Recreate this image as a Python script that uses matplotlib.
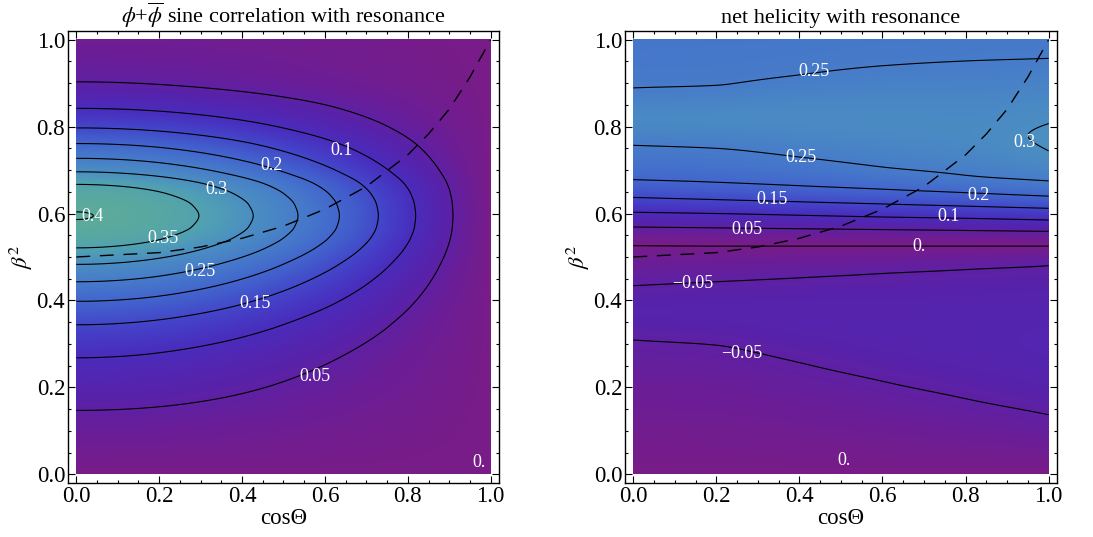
import numpy as np
import matplotlib
matplotlib.use("Agg")
import matplotlib.pyplot as plt
from matplotlib.colors import LinearSegmentedColormap
from matplotlib.ticker import MultipleLocator

plt.rcParams["font.family"] = ["Liberation Serif", "DejaVu Serif"]
plt.rcParams["mathtext.fontset"] = "stix"

# ── colour scale (|value| -> colour) ─────────────────────────────────────────
CMAP_VALUES = [0.00, 0.03, 0.06, 0.10, 0.14, 0.18, 0.22, 0.26, 0.30, 0.34, 0.38, 0.42]
CMAP_COLORS = ["#781c88", "#6a1e98", "#5822aa", "#4a2cbc", "#4442c8", "#425ccc",
               "#4470cc", "#4880c8", "#4b8ec2", "#50a0b4", "#58a8a2", "#60ad95"]

# ── left panel: phi + phibar sine correlation ────────────────────────────────
# profile along cosTheta = 0 (beta^2 -> value)
LEFT_COL_B = [0.0, 0.147, 0.268, 0.344, 0.398, 0.443, 0.483, 0.521, 0.545, 0.570,
              0.595, 0.620, 0.645, 0.667, 0.696, 0.727, 0.761, 0.797, 0.842, 0.903, 1.0]
LEFT_COL_V = [0.0, 0.05, 0.10, 0.15, 0.20, 0.25, 0.30, 0.35, 0.377, 0.395,
              0.401, 0.395, 0.377, 0.35, 0.30, 0.25, 0.20, 0.15, 0.10, 0.05, 0.02]
# profile along the ridge beta^2 ~ 0.6 (cosTheta -> value)
LEFT_ROW_C = [0.0, 0.296, 0.427, 0.535, 0.635, 0.729, 0.819, 0.909, 1.0]
LEFT_ROW_V = [0.401, 0.35, 0.30, 0.25, 0.20, 0.15, 0.10, 0.05, 0.0]
LEFT_LEVELS = [0.05, 0.10, 0.15, 0.20, 0.25, 0.30, 0.35, 0.40]
LEFT_LABELS = ["0.4", "0.35", "0.3", "0.2", "0.1", "0.25", "0.15", "0.05", "0."]
LEFT_LABEL_C = [0.040, 0.210, 0.339, 0.472, 0.641, 0.298, 0.431, 0.577, 0.973]
LEFT_LABEL_B = [0.592, 0.542, 0.656, 0.710, 0.744, 0.466, 0.392, 0.226, 0.027]

# ── right panel: net helicity, columns of contour crossings ──────────────────
RIGHT_COLS = [0.0, 0.2, 0.4, 0.6, 0.8, 1.0]
RIGHT_B = [
    [0.0, 0.309, 0.37, 0.434, 0.526, 0.569, 0.603, 0.637, 0.678, 0.757, 0.82, 0.889, 1.0],
    [0.0, 0.297, 0.37, 0.443, 0.525, 0.567, 0.600, 0.632, 0.672, 0.750, 0.82, 0.895, 1.0],
    [0.0, 0.257, 0.36, 0.452, 0.525, 0.565, 0.596, 0.627, 0.664, 0.730, 0.82, 0.919, 1.0],
    [0.0, 0.214, 0.34, 0.462, 0.525, 0.563, 0.592, 0.622, 0.656, 0.707, 0.81, 0.940, 1.0],
    [0.0, 0.174, 0.32, 0.471, 0.525, 0.561, 0.589, 0.617, 0.648, 0.688, 0.79, 0.951, 1.0],
    [0.0, 0.137, 0.30, 0.480, 0.525, 0.559, 0.585, 0.612, 0.640, 0.675, 0.744, 0.777, 0.807, 0.957, 1.0],
]
RIGHT_V = [
    [0.0, -0.05, -0.065, -0.05, 0.0, 0.05, 0.10, 0.15, 0.20, 0.25, 0.286, 0.25, 0.235],
    [0.0, -0.05, -0.066, -0.05, 0.0, 0.05, 0.10, 0.15, 0.20, 0.25, 0.287, 0.25, 0.236],
    [0.0, -0.05, -0.068, -0.05, 0.0, 0.05, 0.10, 0.15, 0.20, 0.25, 0.288, 0.25, 0.238],
    [0.0, -0.05, -0.070, -0.05, 0.0, 0.05, 0.10, 0.15, 0.20, 0.25, 0.289, 0.25, 0.241],
    [0.0, -0.05, -0.072, -0.05, 0.0, 0.05, 0.10, 0.15, 0.20, 0.25, 0.290, 0.25, 0.243],
    [0.0, -0.05, -0.075, -0.05, 0.0, 0.05, 0.10, 0.15, 0.20, 0.25, 0.30, 0.304, 0.30, 0.25, 0.245],
]
RIGHT_LEVELS = [-0.05, 0.0, 0.05, 0.10, 0.15, 0.20, 0.25, 0.30]
RIGHT_LABELS = ["0.25", "0.25", "0.15", "0.05", "0.2", "0.1", "0.", "0.3",
                "\u22120.05", "\u22120.05", "0."]
RIGHT_LABEL_C = [0.435, 0.405, 0.334, 0.273, 0.832, 0.759, 0.687, 0.941, 0.142, 0.262, 0.507]
RIGHT_LABEL_B = [0.926, 0.728, 0.633, 0.564, 0.642, 0.592, 0.525, 0.764, 0.439, 0.277, 0.032]

# ── resonance curve (dashed), same on both panels ────────────────────────────
RES_C = [0.0, 0.2, 0.3, 0.4, 0.5, 0.6, 0.7, 0.8, 0.85, 0.9, 0.95, 1.0]
RES_B = [0.500, 0.510, 0.523, 0.543, 0.571, 0.610, 0.662, 0.735, 0.783, 0.840, 0.914, 1.0]

N = 401
grid = np.linspace(0, 1, N)


def pchip(x, y, xn):
    # shape-preserving cubic through the read points (flat at extrema)
    x = np.asarray(x, float)
    y = np.asarray(y, float)
    h = np.diff(x)
    d = np.diff(y) / h
    m = np.zeros_like(y)
    for k in range(1, len(x) - 1):
        if d[k - 1] * d[k] > 0:
            w1 = 2 * h[k] + h[k - 1]
            w2 = h[k] + 2 * h[k - 1]
            m[k] = (w1 + w2) / (w1 / d[k - 1] + w2 / d[k])
    m[0], m[-1] = d[0], d[-1]
    i = np.clip(np.searchsorted(x, xn) - 1, 0, len(x) - 2)
    t = (xn - x[i]) / h[i]
    return ((2 * t**3 - 3 * t**2 + 1) * y[i] + (t**3 - 2 * t**2 + t) * h[i] * m[i]
            + (-2 * t**3 + 3 * t**2) * y[i + 1] + (t**3 - t**2) * h[i] * m[i + 1])


def left_field():
    p = pchip(LEFT_COL_B, LEFT_COL_V, grid)
    q = pchip(np.array(LEFT_ROW_C) ** 2, np.array(LEFT_ROW_V) / LEFT_ROW_V[0], grid ** 2)
    return p[:, None] * q[None, :]


def right_field():
    cols = np.array([pchip(b, v, grid) for b, v in zip(RIGHT_B, RIGHT_V)])
    z = np.empty((N, N))
    for i in range(N):
        z[i] = pchip(RIGHT_COLS, cols[:, i], grid)
    return z


def draw_panel(ax, z, levels, labels, lc, lb, title):
    cmap = LinearSegmentedColormap.from_list(
        "mma", list(zip(np.array(CMAP_VALUES) / CMAP_VALUES[-1], CMAP_COLORS)))
    ax.imshow(np.abs(z), extent=[0, 1, 0, 1], origin="lower", cmap=cmap,
              vmin=0, vmax=CMAP_VALUES[-1], aspect="auto", interpolation="bilinear")
    ax.contour(grid, grid, z, levels=levels, colors="k", linewidths=0.8,
               linestyles="solid")
    ax.plot(RES_C, RES_B, color="k", lw=1.0, dashes=(10, 7))
    for t, x, y in zip(labels, lc, lb):
        ax.text(x, y, t, color="white", fontsize=13, ha="center", va="center")

    ax.set_xlim(-0.02, 1.02)
    ax.set_ylim(-0.02, 1.02)
    ax.xaxis.set_major_locator(MultipleLocator(0.2))
    ax.yaxis.set_major_locator(MultipleLocator(0.2))
    ax.xaxis.set_minor_locator(MultipleLocator(0.05))
    ax.yaxis.set_minor_locator(MultipleLocator(0.05))
    ax.xaxis.set_major_formatter(lambda v, p: f"{v:.1f}")
    ax.yaxis.set_major_formatter(lambda v, p: f"{v:.1f}")
    ax.tick_params(which="both", direction="in", top=True, right=True,
                   labelsize=16.5, pad=2, width=0.8)
    ax.tick_params(which="major", length=5)
    ax.tick_params(which="minor", length=2.5)
    for s in ax.spines.values():
        s.set_linewidth(1.0)
    ax.set_xlabel("cos\u0398", fontsize=16.5, labelpad=1)
    ax.set_ylabel(r"$\beta^2$", fontsize=16.5, labelpad=1)
    ax.set_title(title, fontsize=16, pad=6)


fig = plt.figure(figsize=(10.93, 5.37), dpi=100)
ax1 = fig.add_axes([0.0622, 0.1006, 0.3943, 0.8417])
ax2 = fig.add_axes([0.5718, 0.1006, 0.3952, 0.8417])

draw_panel(ax1, left_field(), LEFT_LEVELS, LEFT_LABELS, LEFT_LABEL_C, LEFT_LABEL_B,
           r"$\phi$+$\overline{\phi}$ sine correlation with resonance")
draw_panel(ax2, right_field(), RIGHT_LEVELS, RIGHT_LABELS, RIGHT_LABEL_C, RIGHT_LABEL_B,
           "net helicity with resonance")

fig.savefig("out.png", dpi=100)
